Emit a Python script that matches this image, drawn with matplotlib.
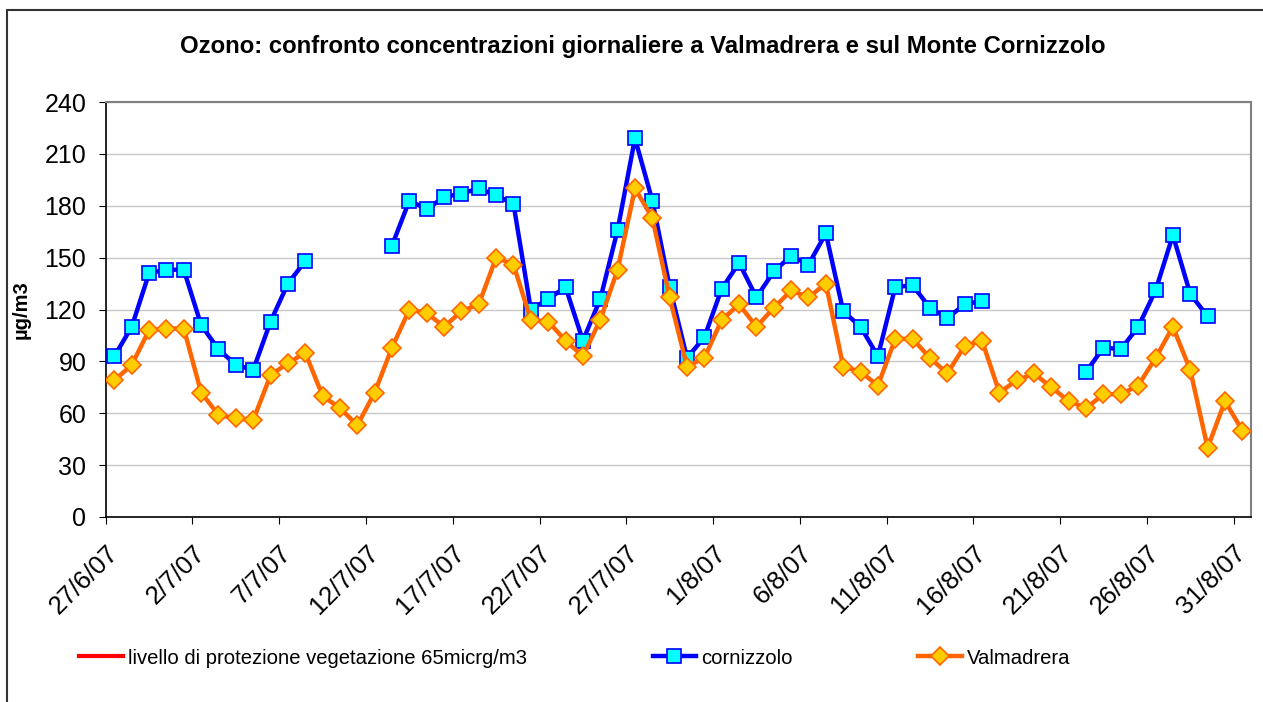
import numpy as np
import matplotlib
matplotlib.use("Agg")
import matplotlib.pyplot as plt
from matplotlib.patches import Rectangle

plt.rcParams["font.family"] = ["Liberation Sans", "DejaVu Sans"]

nan = np.nan

# date (etichette ogni 5 giorni, dal 27/6/07 al 31/8/07)
date_labels = ["27/6/07", "2/7/07", "7/7/07", "12/7/07", "17/7/07", "22/7/07",
               "27/7/07", "1/8/07", "6/8/07", "11/8/07", "16/8/07", "21/8/07",
               "26/8/07", "31/8/07"]

# concentrazioni giornaliere (µg/m3), 66 giorni
cornizzolo = [93, 110, 141, 143, 143, 111, 97, 88, 85, 113, 135, 148,
              nan, nan, nan, nan,
              157, 183, 178, 185, 187, 190, 186, 181, 120, 126, 133, 102, 126, 166, 219, 183, 133,
              92, 104, 132, 147, 127, 142, 151, 146, 164, 119, 110, 93, 133, 134, 121, 115, 123, 125,
              nan, nan, nan, nan, nan,
              84, 98, 97, 110, 131, 163, 129, 116,
              nan, nan]

valmadrera = [79, 88, 108, 109, 109, 72, 59, 57, 56, 82, 89, 95, 70, 63, 53, 72,
              98, 120, 118, 110, 119, 123, 150, 146, 114, 113, 102, 93, 114, 143, 190, 173, 127,
              87, 92, 114, 123, 110, 121, 131, 127, 135, 87, 84, 76, 103, 103, 92, 83, 99, 102,
              72, 79, 83, 75, 67, 63, 71, 71, 76, 92, 110, 85, 40, 67, 50]

livello = []  # serie vuota, presente solo in legenda

n = len(valmadrera)
x = np.arange(n) + 0.5

fig = plt.figure(figsize=(12.63, 7.02), dpi=100)
ax = fig.add_axes([105.7 / 1263, 1 - 517 / 702, (1251 - 105.7) / 1263, (517 - 102) / 702])

# cornice esterna del grafico
fig.patches.append(Rectangle((7 / 1263, -0.1), 1.2, 1 - 10 / 702 + 0.1, transform=fig.transFigure,
                             fill=False, edgecolor="#333333", linewidth=1.5))

ax.plot(livello, livello, color="red", linewidth=3,
        label="livello di protezione vegetazione 65micrg/m3")
ax.plot(x, cornizzolo, color="#0000FF", linewidth=3.2, marker="s", markersize=10.5,
        markerfacecolor="#00FFFF", markeredgecolor="#0000FF", markeredgewidth=1.2,
        label="cornizzolo", zorder=3)
ax.plot(x, valmadrera, color="#FF6600", linewidth=3.2, marker="D", markersize=9,
        markerfacecolor="#FFCC00", markeredgecolor="#FF6600", markeredgewidth=1.2,
        label="Valmadrera", zorder=4)

ax.set_xlim(0, n)
ax.set_ylim(0, 240)
ax.set_yticks(np.arange(0, 241, 30))
ax.set_xticks(np.arange(0, n, 5))
ax.set_xticklabels(date_labels, rotation=45, ha="right", rotation_mode="anchor", fontsize=18.5)
ax.tick_params(axis="y", labelsize=18, length=5, direction="out", pad=9)
ax.tick_params(axis="x", length=5, direction="out", pad=12)
ax.grid(axis="y", color="#C8C8C8", linewidth=1)
ax.set_axisbelow(True)
for s in ["top", "right"]:
    ax.spines[s].set_color("#808080")
    ax.spines[s].set_linewidth(1.5)
for s in ["left", "bottom"]:
    ax.spines[s].set_color("black")
    ax.spines[s].set_linewidth(1.2)

ax.set_ylabel("µg/m3", fontsize=14.5, fontweight="bold", labelpad=10)
fig.text(0.509, 1 - 47 / 702, "Ozono: confronto concentrazioni giornaliere a Valmadrera e sul Monte Cornizzolo",
         ha="center", va="center", fontsize=17.2, fontweight="bold")

fig.legend(loc="center left", bbox_to_anchor=(69 / 1263, 1 - 658 / 702), ncol=3, frameon=False,
           borderpad=0, fontsize=14.6, handlelength=2.15, columnspacing=6.2, handletextpad=0.25)

fig.savefig("out.png", dpi=100)
